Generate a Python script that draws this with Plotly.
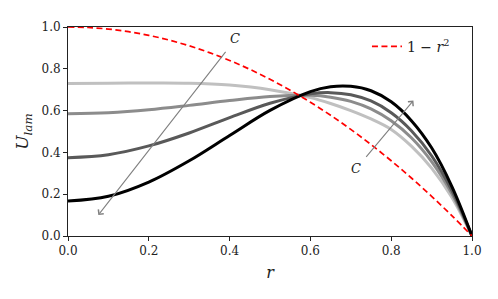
import plotly.graph_objects as go

# radial positions
r_vals = [0.0, 0.1, 0.2, 0.3, 0.4, 0.5, 0.6, 0.65, 0.7, 0.75, 0.8, 0.85, 0.9, 0.95, 1.0]

# velocity profiles (light -> black)
u_light = [0.730, 0.731, 0.732, 0.731, 0.722, 0.700, 0.662, 0.634, 0.600, 0.560, 0.510, 0.430, 0.325, 0.185, 0.0]
u_mid   = [0.585, 0.590, 0.604, 0.625, 0.648, 0.667, 0.673, 0.664, 0.644, 0.608, 0.551, 0.470, 0.356, 0.203, 0.0]
u_dark  = [0.375, 0.389, 0.431, 0.493, 0.566, 0.635, 0.680, 0.686, 0.676, 0.646, 0.590, 0.504, 0.384, 0.218, 0.0]
u_black = [0.167, 0.190, 0.258, 0.360, 0.481, 0.601, 0.691, 0.714, 0.716, 0.695, 0.642, 0.552, 0.422, 0.238, 0.0]

# reference parabola 1 - r^2 (tabulated)
r_par = [0.0, 0.05, 0.1, 0.15, 0.2, 0.25, 0.3, 0.35, 0.4, 0.45, 0.5,
         0.55, 0.6, 0.65, 0.7, 0.75, 0.8, 0.85, 0.9, 0.95, 1.0]
u_par = [1.0, 0.9975, 0.99, 0.9775, 0.96, 0.9375, 0.91, 0.8775, 0.84, 0.7975, 0.75,
         0.6975, 0.64, 0.5775, 0.51, 0.4375, 0.36, 0.2775, 0.19, 0.0975, 0.0]

series = [
    ("light", u_light, "#c0c0c0"),
    ("mid", u_mid, "#8c8c8c"),
    ("dark", u_dark, "#595959"),
    ("black", u_black, "#000000"),
]

x_ticks = [0.0, 0.2, 0.4, 0.6, 0.8, 1.0]
y_ticks = [0.0, 0.2, 0.4, 0.6, 0.8, 1.0]

FONT = "DejaVu Serif"

fig = go.Figure()
for name, vals, col in series:
    fig.add_trace(go.Scatter(x=r_vals, y=vals, mode="lines", name=name,
                             line=dict(color=col, width=3, shape="spline", smoothing=1.0),
                             showlegend=False, hoverinfo="skip"))

fig.add_trace(go.Scatter(x=r_par, y=u_par, mode="lines", name="1 − <i>r</i><sup>2</sup>",
                         line=dict(color="#ff0000", width=1.7, dash="6px,3.5px", shape="spline"),
                         showlegend=True))

# arrows (tail -> tip) in data coordinates
arrow1_tail = (0.393, 0.888)
arrow1_tip = (0.075, 0.100)
arrow2_tail = (0.735, 0.371)
arrow2_tip = (0.855, 0.648)
label1 = (0.413, 0.945)
label2 = (0.713, 0.322)

for tail, tip in [(arrow1_tail, arrow1_tip), (arrow2_tail, arrow2_tip)]:
    fig.add_annotation(x=tip[0], y=tip[1], ax=tail[0], ay=tail[1],
                       xref="x", yref="y", axref="x", ayref="y",
                       showarrow=True, arrowhead=4, arrowsize=1.2, arrowwidth=1.1,
                       arrowcolor="#808080", text="")
for lab in [label1, label2]:
    fig.add_annotation(x=lab[0], y=lab[1], xref="x", yref="y", text="<i>C</i>",
                       showarrow=False, font=dict(family=FONT, size=13, color="#222222"))

axis_common = dict(
    showgrid=False, zeroline=False, showline=True, linecolor="#222222", linewidth=1,
    mirror=True, ticks="outside", ticklen=4, tickwidth=1, tickcolor="#222222",
    tickfont=dict(family=FONT, size=12, color="#222222"), tickformat=".1f",
)

fig.update_xaxes(range=[0, 1], tickvals=x_ticks, **axis_common,
                 title=dict(text="<i>r</i>", font=dict(family=FONT, size=16, color="#222222"),
                            standoff=9))
fig.update_yaxes(range=[0, 1], tickvals=y_ticks, **axis_common,
                 title=dict(text="<i>U</i><sub><i>lam</i></sub>",
                            font=dict(family=FONT, size=17, color="#222222"), standoff=8))

# page body adds an 8px offset, so the figure is drawn slightly smaller
fig.update_layout(
    width=490, height=291,
    margin=dict(l=60, r=26, t=14, b=63),
    plot_bgcolor="white", paper_bgcolor="white",
    legend=dict(x=0.74, y=0.905, xanchor="left", yanchor="middle",
                bgcolor="rgba(255,255,255,0)", borderwidth=0,
                font=dict(family=FONT, size=14, color="#222222")),
)

fig.write_html("out.html")
